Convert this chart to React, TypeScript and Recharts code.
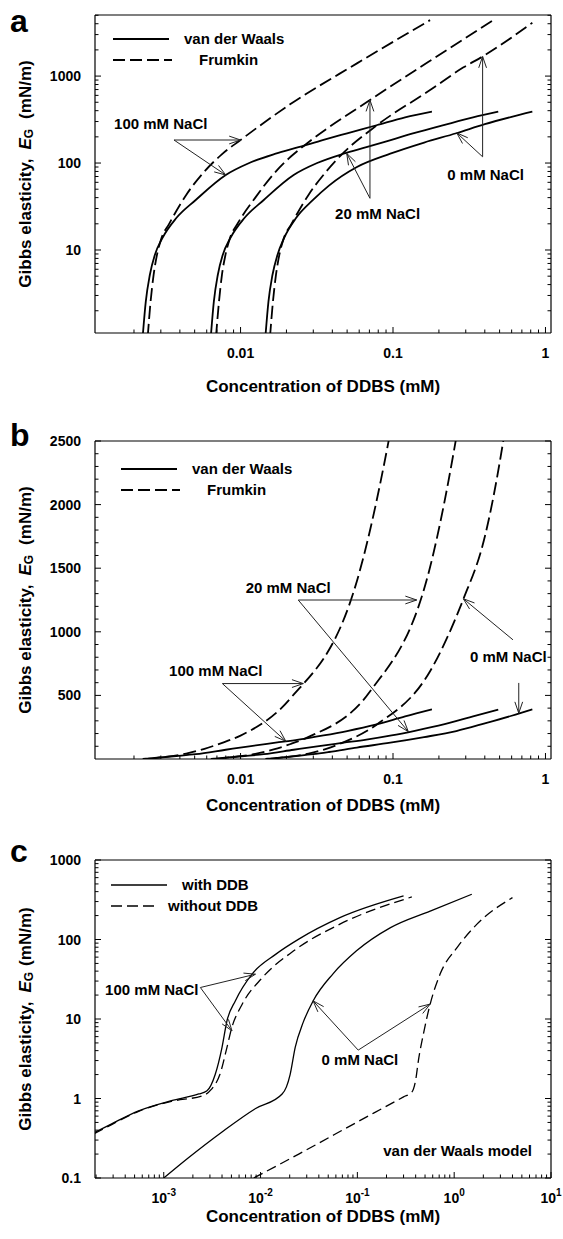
import React from "react";
import { LineChart, Line, XAxis, YAxis, ReferenceLine, ReferenceDot, Legend } from "recharts";

const FONT = "'Liberation Sans', Arial, Helvetica, sans-serif";

type Pt = [number, number];

// panels a & b: concentration of DDBS (mM) vs Gibbs elasticity (mN/m)
const vdw100: Pt[] = [[0.00228, 1], [0.00239, 2.55], [0.00254, 5.16], [0.00274, 8.77], [0.00307, 13.7], [0.00379, 23.3], [0.00508, 37.6], [0.008, 72.8], [0.0114, 100], [0.017, 128], [0.024, 152], [0.035, 185], [0.05, 220], [0.078, 272], [0.12, 335], [0.18, 390]];
const frum100: Pt[] = [[0.00246, 1], [0.00257, 2.55], [0.00269, 5.16], [0.00283, 8.77], [0.00303, 13.7], [0.0034, 20], [0.0044, 43], [0.0058, 80], [0.0075, 125], [0.01, 184], [0.021, 470], [0.058, 1400], [0.175, 4400]];
const vdw20: Pt[] = [[0.00638, 1], [0.00668, 2.55], [0.00709, 5.16], [0.00764, 8.77], [0.00857, 13.7], [0.0106, 23.3], [0.0142, 37.6], [0.0223, 72.8], [0.0318, 100], [0.0474, 128], [0.0669, 152], [0.0978, 185], [0.139, 222], [0.218, 275], [0.335, 335], [0.49, 389]];
const frum20: Pt[] = [[0.0069, 1], [0.00722, 2.55], [0.00755, 5.16], [0.00796, 8.77], [0.00852, 13.7], [0.00955, 20], [0.0125, 40], [0.0165, 75], [0.0213, 118], [0.0275, 170], [0.0706, 530], [0.17, 1450], [0.455, 4400]];
const vdw0: Pt[] = [[0.01455, 1], [0.01524, 2.55], [0.01619, 5.16], [0.01746, 8.77], [0.01928, 13.7], [0.02312, 23.3], [0.02988, 37.6], [0.038, 55], [0.058, 90], [0.096, 128], [0.16, 172], [0.26, 220], [0.4, 280], [0.6, 340], [0.82, 390]];
const frum0: Pt[] = [[0.0156, 1], [0.01631, 2.55], [0.01707, 5.16], [0.01796, 8.77], [0.01923, 13.7], [0.02158, 20], [0.0279, 43], [0.0365, 80], [0.046, 125], [0.078, 270], [0.175, 690], [0.29, 1260], [0.387, 1680], [0.82, 4100]];

// panel c: with / without DDB, van der Waals model
const ddb100: Pt[] = [[1.9e-4, 0.37], [2.9e-4, 0.48], [5.5e-4, 0.7], [1.2e-3, 0.94], [2.3e-3, 1.14], [2.8e-3, 1.25], [3.4e-3, 2.0], [4.0e-3, 4.4], [4.5e-3, 9.5], [5.5e-3, 17], [8.2e-3, 37], [0.0143, 65], [0.0248, 101], [0.066, 188], [0.3, 353]];
const noDdb100: Pt[] = [[1.9e-4, 0.36], [2.9e-4, 0.47], [5.5e-4, 0.69], [1.2e-3, 0.92], [2.6e-3, 1.1], [3.1e-3, 1.3], [3.8e-3, 2.0], [4.5e-3, 4.4], [5.0e-3, 7.5], [6.4e-3, 15], [0.0104, 33], [0.022, 72], [0.066, 156], [0.365, 343]];
const ddb0: Pt[] = [[1.0e-3, 0.1], [1.8e-3, 0.18], [4e-3, 0.38], [8.9e-3, 0.75], [0.0167, 1.14], [0.0185, 1.4], [0.0202, 2.0], [0.0228, 4.4], [0.0275, 9], [0.035, 17], [0.056, 37], [0.098, 72], [0.22, 141], [0.565, 228], [1.52, 371]];
const noDdb0: Pt[] = [[8.5e-3, 0.1], [0.0248, 0.2], [0.098, 0.5], [0.3, 1.05], [0.365, 1.2], [0.4, 1.7], [0.427, 3.0], [0.481, 6.5], [0.565, 15.4], [0.717, 37], [1.07, 79], [1.72, 156], [4.0, 336]];

// axis ticks / labels
const concMajorAB = [0.01, 0.1, 1];
const elastMajorA = [10, 100, 1000];
const elastMajorB = [500, 1000, 1500, 2000, 2500];
const elastTicksB = Array.from({ length: 25 }, (_, i) => (i + 1) * 100);
const concMajorC = [0.001, 0.01, 0.1, 1, 10];
const elastMajorC = [0.1, 1, 10, 100, 1000];

// annotations (data coordinates)
const arrowsA = [
  { from: [0.00366, 184], to: [0.01, 184] },
  { from: [0.00366, 184], to: [0.008, 72.8] },
  { from: [0.0706, 39.3], to: [0.0706, 530] },
  { from: [0.0706, 39.3], to: [0.0497, 129] },
  { from: [0.387, 118], to: [0.387, 1680] },
  { from: [0.387, 118], to: [0.262, 222] },
];
const notesA = [
  { x: 0.00148, y: 286, text: "100 mM NaCl" },
  { x: 0.0417, y: 26.4, text: "20 mM NaCl" },
  { x: 0.227, y: 74, text: "0 mM NaCl" },
];
const arrowsB = [
  { from: [0.0239, 1250], to: [0.143, 1250] },
  { from: [0.0239, 1250], to: [0.126, 215] },
  { from: [0.0076, 593], to: [0.0258, 593] },
  { from: [0.0076, 593], to: [0.0198, 140] },
  { from: [0.612, 937], to: [0.289, 1260] },
  { from: [0.668, 598], to: [0.668, 360] },
];
const notesB = [
  { x: 0.0108, y: 1349, text: "20 mM NaCl" },
  { x: 0.0034, y: 698, text: "100 mM NaCl" },
  { x: 0.32, y: 803, text: "0 mM NaCl" },
];
const arrowsC = [
  { from: [2.39e-3, 24.9], to: [8.85e-3, 36.6] },
  { from: [2.39e-3, 24.9], to: [5.07e-3, 7.1] },
  { from: [0.102, 4.06], to: [0.0349, 16.9] },
  { from: [0.102, 4.06], to: [0.565, 15.4] },
];
const notesC = [
  { x: 2.48e-4, y: 23.8, text: "100 mM NaCl" },
  { x: 0.0427, y: 3.05, text: "0 mM NaCl" },
  { x: 0.185, y: 0.225, text: "van der Waals model" },
];

const keyAB = [
  { label: "van der Waals", dash: undefined as string | undefined, x2: 57, tx: 72, y: 10 },
  { label: "Frumkin", dash: "12 5", x2: 60, tx: 87, y: 31 },
];
const keyC = [
  { label: "with DDB", dash: undefined as string | undefined, x2: 57, tx: 72, y: 10 },
  { label: "without DDB", dash: "11 5", x2: 45, tx: 58, y: 31 },
];

const logTicks = (lo: number, hi: number) => {
  const out: number[] = [];
  for (let k = Math.floor(Math.log10(lo)); k <= Math.ceil(Math.log10(hi)); k++) {
    for (let m = 1; m < 10; m++) {
      const v = +(m * Math.pow(10, k)).toPrecision(6);
      if (v >= lo && v <= hi) out.push(v);
    }
  }
  return out;
};
const isMajor = (v: number, majors: number[]) => majors.some((m) => Math.abs(v / m - 1) < 1e-6);
const toObj = (pts: Pt[]) => pts.map(([c, e]) => ({ c, e }));

const txt = { fontFamily: FONT, fontWeight: "bold" as const, fill: "#000" };

function BottomTick(p: any) {
  const { x, y, payload, majors, fmt } = p;
  const major = isMajor(payload.value, majors);
  return (
    <g>
      <line x1={x} x2={x} y1={y} y2={y - (major ? 6 : 3.5)} stroke="#000" />
      {major && (
        <text x={x} y={y + 25} textAnchor="middle" fontSize={14} {...txt}>
          {fmt(payload.value)}
        </text>
      )}
    </g>
  );
}
function TopTick(p: any) {
  const { x, y, payload, majors } = p;
  const major = isMajor(payload.value, majors);
  return <line x1={x} x2={x} y1={y} y2={y + (major ? 6 : 3.5)} stroke="#000" />;
}
function LeftTick(p: any) {
  const { x, y, payload, majors } = p;
  const major = isMajor(payload.value, majors);
  return (
    <g>
      <line x1={x} x2={x + (major ? 6 : 3.5)} y1={y} y2={y} stroke="#000" />
      {major && (
        <text x={x - 14} y={y + 5} textAnchor="end" fontSize={14} {...txt}>
          {String(payload.value)}
        </text>
      )}
    </g>
  );
}
function RightTick(p: any) {
  const { x, y, payload, majors } = p;
  const major = isMajor(payload.value, majors);
  return <line x1={x} x2={x - (major ? 6 : 3.5)} y1={y} y2={y} stroke="#000" />;
}

function ArrowLine(p: any) {
  const { x1, y1, x2, y2 } = p;
  const a = Math.atan2(y2 - y1, x2 - x1);
  const L = 12;
  const w = 0.33;
  const h1 = `${x2 - L * Math.cos(a - w)},${y2 - L * Math.sin(a - w)}`;
  const h2 = `${x2 - L * Math.cos(a + w)},${y2 - L * Math.sin(a + w)}`;
  return (
    <g>
      <line x1={x1} y1={y1} x2={x2} y2={y2} stroke="#222" strokeWidth={1} />
      <polyline points={`${h1} ${x2},${y2} ${h2}`} fill="none" stroke="#222" strokeWidth={1} />
    </g>
  );
}

function Key({ items, sw }: { items: typeof keyAB; sw: number }) {
  return (
    <svg width={240} height={44} style={{ display: "block", overflow: "visible" }}>
      {items.map((it) => (
        <g key={it.label}>
          <line x1={1} x2={it.x2} y1={it.y} y2={it.y} stroke="#000" strokeWidth={sw} strokeDasharray={it.dash} />
          <text x={it.tx} y={it.y + 5} fontSize={15} {...txt}>
            {it.label}
          </text>
        </g>
      ))}
    </svg>
  );
}

const supFmt = (v: number) => (
  <>
    10<tspan dy={-7} fontSize={10}>{String(Math.round(Math.log10(v)))}</tspan>
  </>
);

type Series = { pts: Pt[]; dash?: string };

type PanelProps = {
  top: number;
  height: number;
  bottom: number;
  xDomain: [number, number];
  xTicks: number[];
  xMajors: number[];
  xFmt: (v: number) => React.ReactNode;
  yLog: boolean;
  yDomain: [number, number];
  yTicks: number[];
  yMajors: number[];
  series: Series[];
  sw: number;
  arrows: { from: number[]; to: number[] }[];
  notes: { x: number; y: number; text: string }[];
  keyItems: typeof keyAB;
  keyPos: { left: number; top: number };
  titleDy: number;
  unitGap: number;
};

function Panel(pp: PanelProps) {
  const yTitle = (props: any) => {
    const vb = props.viewBox;
    const cy = vb.y + vb.height / 2;
    return (
      <text transform={`translate(25, ${cy}) rotate(-90)`} textAnchor="middle" dominantBaseline="central" fontSize={17} {...txt}>
        Gibbs elasticity,
        <tspan dx={9} fontStyle="italic">E</tspan>
        <tspan dy={4} fontSize={12}>G</tspan>
        <tspan dy={-4} dx={pp.unitGap}>(mN/m)</tspan>
      </text>
    );
  };
  const xTitle = (props: any) => {
    const vb = props.viewBox;
    return (
      <text x={vb.x + vb.width / 2} y={vb.y + pp.titleDy} textAnchor="middle" fontSize={17} {...txt}>
        Concentration of DDBS (mM)
      </text>
    );
  };
  return (
    <div style={{ position: "absolute", left: 0, top: pp.top }}>
      <LineChart width={563} height={pp.height} margin={{ top: 14, right: 11, left: 0, bottom: pp.bottom }}>
        <XAxis
          dataKey="c"
          type="number"
          scale="log"
          domain={pp.xDomain}
          allowDataOverflow
          ticks={pp.xTicks}
          interval={0}
          height={60}
          tickSize={0}
          tickMargin={0}
          tickLine={false}
          axisLine={{ stroke: "#000", strokeWidth: 1.2 }}
          tick={(p: any) => <BottomTick {...p} majors={pp.xMajors} fmt={pp.xFmt} />}
          label={xTitle}
        />
        <XAxis
          xAxisId="top"
          orientation="top"
          type="number"
          scale="log"
          domain={pp.xDomain}
          allowDataOverflow
          ticks={pp.xTicks}
          interval={0}
          height={1}
          tickSize={0}
          tickMargin={0}
          tickLine={false}
          axisLine={{ stroke: "#000", strokeWidth: 1.2 }}
          tick={(p: any) => <TopTick {...p} majors={pp.xMajors} />}
        />
        <YAxis
          dataKey="e"
          type="number"
          scale={pp.yLog ? "log" : "linear"}
          domain={pp.yDomain}
          allowDataOverflow
          ticks={pp.yTicks}
          interval={0}
          width={95}
          tickSize={0}
          tickMargin={0}
          tickLine={false}
          axisLine={{ stroke: "#000", strokeWidth: 1.2 }}
          tick={(p: any) => <LeftTick {...p} majors={pp.yMajors} />}
          label={yTitle}
        />
        <YAxis
          yAxisId="r"
          orientation="right"
          type="number"
          scale={pp.yLog ? "log" : "linear"}
          domain={pp.yDomain}
          allowDataOverflow
          ticks={pp.yTicks}
          interval={0}
          width={1}
          tickSize={0}
          tickMargin={0}
          tickLine={false}
          axisLine={{ stroke: "#000", strokeWidth: 1.2 }}
          tick={(p: any) => <RightTick {...p} majors={pp.yMajors} />}
        />
        <Legend
          layout="vertical"
          align="center"
          verticalAlign="middle"
          wrapperStyle={{ left: pp.keyPos.left, top: pp.keyPos.top, width: 240 }}
          content={() => <Key items={pp.keyItems} sw={pp.sw} />}
        />
        {pp.series.map((s, i) => (
          <Line
            key={i}
            data={toObj(s.pts)}
            dataKey="e"
            type="monotone"
            dot={false}
            activeDot={false}
            stroke="#000"
            strokeWidth={pp.sw}
            strokeDasharray={s.dash}
            isAnimationActive={false}
            legendType="none"
          />
        ))}
        {pp.arrows.map((a, i) => (
          <ReferenceLine
            key={"a" + i}
            segment={[{ x: a.from[0], y: a.from[1] }, { x: a.to[0], y: a.to[1] }]}
            ifOverflow="visible"
            shape={(p: any) => <ArrowLine {...p} />}
          />
        ))}
        {pp.notes.map((n) => (
          <ReferenceDot
            key={n.text}
            x={n.x}
            y={n.y}
            r={0}
            ifOverflow="visible"
            shape={(p: any) => (
              <text x={p.cx} y={p.cy} dominantBaseline="central" fontSize={15} {...txt}>
                {n.text}
              </text>
            )}
          />
        ))}
      </LineChart>
    </div>
  );
}

const dashAB = "13 5";
const dashC = "10 5";

export default function App() {
  const xDomAB: [number, number] = [0.00111, 1.087];
  const xDomC: [number, number] = [1.95e-4, 10];
  const seriesAB: Series[] = [
    { pts: vdw100 },
    { pts: frum100, dash: dashAB },
    { pts: vdw20 },
    { pts: frum20, dash: dashAB },
    { pts: vdw0 },
    { pts: frum0, dash: dashAB },
  ];
  const seriesC: Series[] = [
    { pts: ddb100 },
    { pts: noDdb100, dash: dashC },
    { pts: ddb0 },
    { pts: noDdb0, dash: dashC },
  ];
  return (
    <div style={{ position: "absolute", left: 0, top: 0, width: 563, height: 1239, background: "#fff", overflow: "hidden" }}>
      <Panel
        top={0}
        height={400}
        bottom={7}
        xDomain={xDomAB}
        xTicks={logTicks(xDomAB[0], xDomAB[1])}
        xMajors={concMajorAB}
        xFmt={(v) => String(v)}
        yLog
        yDomain={[1.11, 5040]}
        yTicks={logTicks(1.11, 5040)}
        yMajors={elastMajorA}
        series={seriesAB}
        sw={1.8}
        arrows={arrowsA}
        notes={notesA}
        keyItems={keyAB}
        keyPos={{ left: 112, top: 29 }}
        titleDy={59}
        unitGap={10}
      />
      <Panel
        top={426}
        height={400}
        bottom={7}
        xDomain={xDomAB}
        xTicks={logTicks(xDomAB[0], xDomAB[1])}
        xMajors={concMajorAB}
        xFmt={(v) => String(v)}
        yLog={false}
        yDomain={[0, 2500]}
        yTicks={elastTicksB}
        yMajors={elastMajorB}
        series={seriesAB}
        sw={1.8}
        arrows={arrowsB}
        notes={notesB}
        keyItems={keyAB}
        keyPos={{ left: 120, top: 459 - 426 }}
        titleDy={52}
        unitGap={10}
      />
      <Panel
        top={845}
        height={394}
        bottom={1}
        xDomain={xDomC}
        xTicks={logTicks(xDomC[0], xDomC[1])}
        xMajors={concMajorC}
        xFmt={supFmt}
        yLog
        yDomain={[0.1, 1000]}
        yTicks={logTicks(0.1, 1000)}
        yMajors={elastMajorC}
        series={seriesC}
        sw={1.3}
        arrows={arrowsC}
        notes={notesC}
        keyItems={keyC}
        keyPos={{ left: 110, top: 875 - 845 }}
        titleDy={44}
        unitGap={6}
      />
      <svg width={563} height={1239} style={{ position: "absolute", left: 0, top: 0, pointerEvents: "none" }}>
        <text x={10} y={32} fontSize={32} {...txt}>a</text>
        <text x={10} y={446} fontSize={32} {...txt}>b</text>
        <text x={10} y={862} fontSize={32} {...txt}>c</text>
      </svg>
    </div>
  );
}
